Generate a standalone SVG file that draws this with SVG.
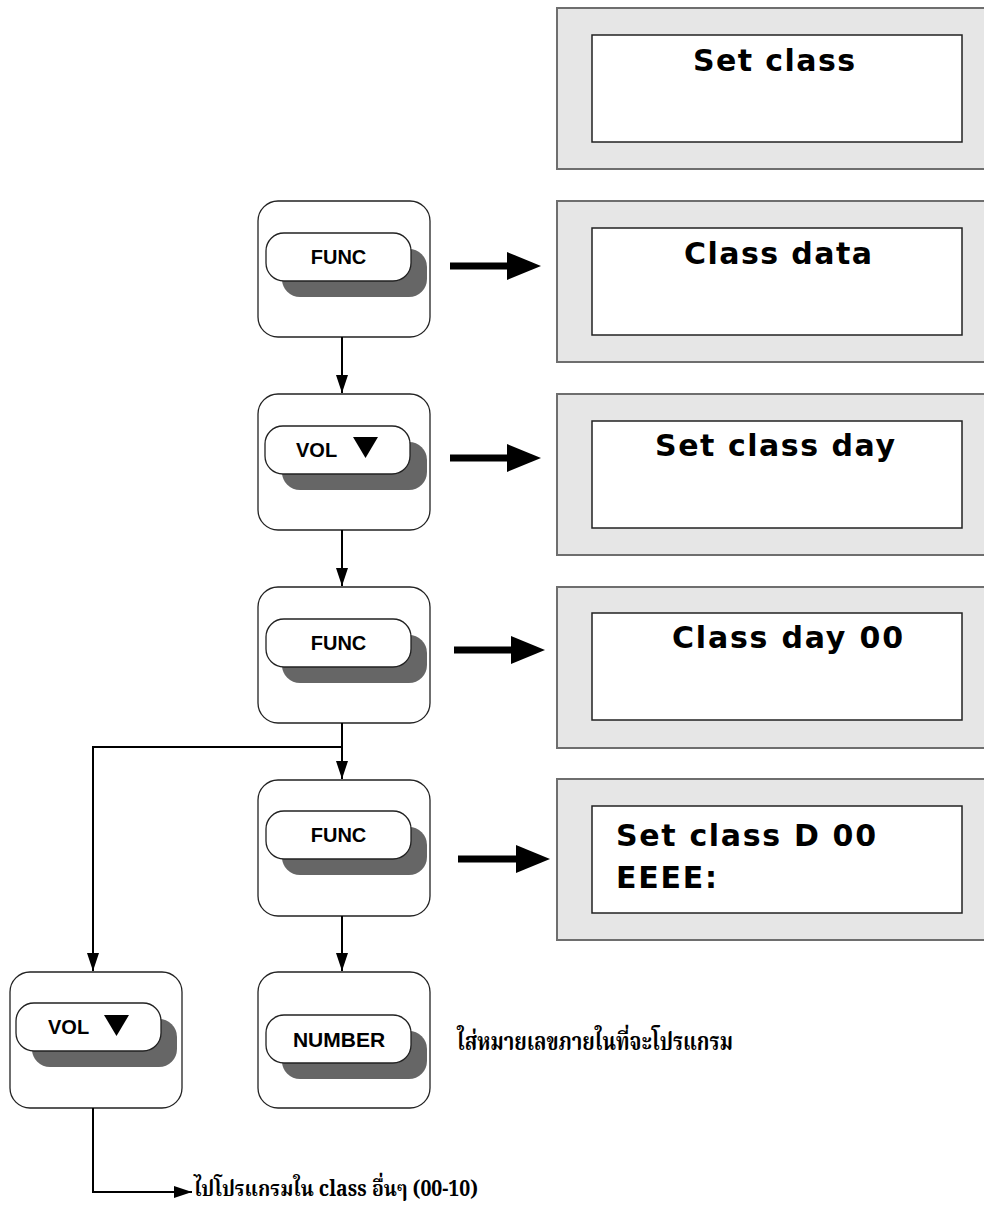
<svg xmlns="http://www.w3.org/2000/svg" width="984" height="1208" viewBox="0 0 984 1208">
<style>
.disp-outer{fill:#e6e6e6;stroke:#6e6e6e;stroke-width:2}
.disp-inner{fill:#fff;stroke:#222;stroke-width:1.5}
.disp-text{font-family:"DejaVu Sans",Verdana,sans-serif;font-weight:bold;font-size:30px;fill:#000}
.node{fill:#fff;stroke:#222;stroke-width:1.3}
.btn{fill:#fff;stroke:#222;stroke-width:1.3}
.shadow{fill:#666}
.lbl{font-family:"Liberation Sans",Arial,sans-serif;font-weight:bold;font-size:20px;fill:#000}
.tri{fill:#000}
.thai{font-family:"Noto Serif Thai","Noto Sans Thai","Liberation Serif",serif;font-weight:bold;font-size:24px;fill:#000}
.conn{stroke:#000;stroke-width:2;fill:none}
.thick{stroke:#000;stroke-width:7;fill:none}
</style>
<defs>
<marker id="ah" markerUnits="userSpaceOnUse" markerWidth="18" markerHeight="12" refX="18" refY="6" orient="auto">
<path d="M0,0 L18,6 L0,12 z" fill="#000"/>
</marker>
<marker id="ahb" markerUnits="userSpaceOnUse" markerWidth="34" markerHeight="28" refX="3" refY="14" orient="auto">
<path d="M0,0 L34,14 L0,28 z" fill="#000"/>
</marker>
</defs>
<rect width="984" height="1208" fill="#fff"/>

<g id="display1">
<rect class="disp-outer" x="557" y="8" width="440" height="161"/>
<rect class="disp-inner" x="592" y="35" width="370" height="107"/>
<text class="disp-text" x="693" y="71" textLength="162" lengthAdjust="spacing">Set class</text>
</g>
<g id="display2">
<rect class="disp-outer" x="557" y="201" width="440" height="161"/>
<rect class="disp-inner" x="592" y="228" width="370" height="107"/>
<text class="disp-text" x="684" y="264" textLength="188" lengthAdjust="spacing">Class data</text>
</g>
<g id="display3">
<rect class="disp-outer" x="557" y="394" width="440" height="161"/>
<rect class="disp-inner" x="592" y="421" width="370" height="107"/>
<text class="disp-text" x="655" y="456" textLength="240" lengthAdjust="spacing">Set class day</text>
</g>
<g id="display4">
<rect class="disp-outer" x="557" y="587" width="440" height="161"/>
<rect class="disp-inner" x="592" y="613" width="370" height="107"/>
<text class="disp-text" x="672" y="648" textLength="231" lengthAdjust="spacing">Class day 00</text>
</g>
<g id="display5">
<rect class="disp-outer" x="557" y="779" width="440" height="161"/>
<rect class="disp-inner" x="592" y="806" width="370" height="107"/>
<text class="disp-text" x="616" y="846" textLength="260" lengthAdjust="spacing">Set class D 00</text>
<text class="disp-text" x="616" y="888" textLength="101" lengthAdjust="spacing">EEEE:</text>
</g>

<g id="node-func1">
<rect class="node" x="258" y="201" width="172" height="136" rx="20"/>
<rect class="shadow" x="282" y="249" width="145" height="48" rx="18"/>
<rect class="btn" x="266" y="233" width="145" height="48" rx="18"/>
<text class="lbl" x="338.5" y="264" text-anchor="middle">FUNC</text>
</g>
<g id="node-vol1">
<rect class="node" x="258" y="394" width="172" height="136" rx="20"/>
<rect class="shadow" x="282" y="442" width="145" height="48" rx="18"/>
<rect class="btn" x="265" y="426" width="145" height="48" rx="18"/>
<text class="lbl" x="296" y="457">VOL</text>
<polygon class="tri" points="353,437 378,437 365.5,458"/>
</g>
<g id="node-func2">
<rect class="node" x="258" y="587" width="172" height="136" rx="20"/>
<rect class="shadow" x="282" y="635" width="145" height="48" rx="18"/>
<rect class="btn" x="266" y="619" width="145" height="48" rx="18"/>
<text class="lbl" x="338.5" y="650" text-anchor="middle">FUNC</text>
</g>
<g id="node-func3">
<rect class="node" x="258" y="780" width="172" height="136" rx="20"/>
<rect class="shadow" x="282" y="827" width="145" height="48" rx="18"/>
<rect class="btn" x="266" y="811" width="145" height="48" rx="18"/>
<text class="lbl" x="338.5" y="842" text-anchor="middle">FUNC</text>
</g>
<g id="node-number">
<rect class="node" x="258" y="972" width="172" height="136" rx="20"/>
<rect class="shadow" x="282" y="1031" width="145" height="48" rx="18"/>
<rect class="btn" x="266" y="1015" width="145" height="48" rx="18"/>
<text class="lbl" x="339" y="1047" text-anchor="middle" style="font-size:21px">NUMBER</text>
</g>
<g id="node-vol2">
<rect class="node" x="10" y="972" width="172" height="136" rx="20"/>
<rect class="shadow" x="32" y="1019" width="145" height="48" rx="18"/>
<rect class="btn" x="16" y="1003" width="145" height="48" rx="18"/>
<text class="lbl" x="48" y="1034">VOL</text>
<polygon class="tri" points="104,1015 129,1015 116.5,1036"/>
</g>

<g id="note-number">
<text class="thai" x="457" y="1050" textLength="276" lengthAdjust="spacingAndGlyphs">ใส่หมายเลขภายในที่จะโปรแกรม</text>
</g>
<g id="note-other">
<text class="thai" x="194" y="1196" style="font-size:22px" textLength="284" lengthAdjust="spacingAndGlyphs">ไปโปรแกรมใน class อื่นๆ (00-10)</text>
</g>

<g id="connectors">
<path class="conn" d="M342,337 V393" marker-end="url(#ah)"/>
<path class="conn" d="M342,530 V586" marker-end="url(#ah)"/>
<path class="conn" d="M342,723 V779" marker-end="url(#ah)"/>
<path class="conn" d="M342,747 H93 V971" marker-end="url(#ah)"/>
<path class="conn" d="M342,916 V971" marker-end="url(#ah)"/>
<path class="conn" d="M93,1108 V1192 H192" marker-end="url(#ah)"/>
<path class="thick" d="M450,266 H510" marker-end="url(#ahb)"/>
<path class="thick" d="M450,458 H510" marker-end="url(#ahb)"/>
<path class="thick" d="M454,650 H514" marker-end="url(#ahb)"/>
<path class="thick" d="M458,859 H519" marker-end="url(#ahb)"/>
</g>
</svg>
